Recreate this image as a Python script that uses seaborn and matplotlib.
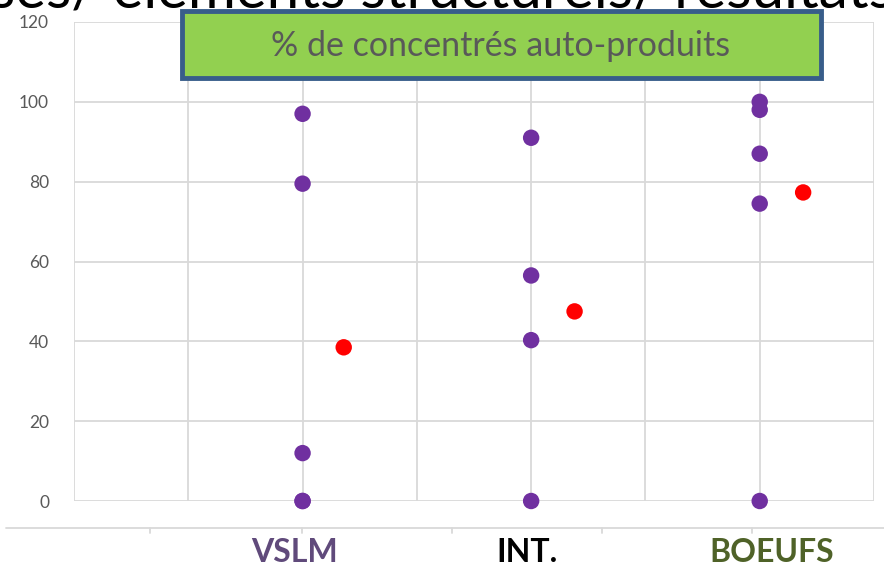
import matplotlib
matplotlib.use("Agg")
import matplotlib.pyplot as plt
import seaborn as sns
import pandas as pd
from matplotlib.patches import Rectangle
from matplotlib.lines import Line2D

# valeurs
groupes = ["VSLM", "INT.", "BOEUFS"]
groupe_x = [1, 2, 3]
vslm = [97, 79.5, 12, 0, 0]
inter = [91, 56.5, 40.3, 0]
boeufs = [100, 98, 87, 74.5, 0]
moy_x = [1.18, 2.19, 3.19]
moy_y = [38.5, 47.5, 77.3]
couleurs_groupes = ["#604a7b", "#000000", "#4f6228"]
yticks = [0, 20, 40, 60, 80, 100, 120]

rows = []
for gx, vals in zip(groupe_x, [vslm, inter, boeufs]):
    for v in vals:
        rows.append({"x": gx, "y": v})
df = pd.DataFrame(rows)
df_moy = pd.DataFrame({"x": moy_x, "y": moy_y})

sns.set_style("white")
plt.rcParams["font.family"] = ["Lato", "DejaVu Sans"]

fig = plt.figure(figsize=(8.84, 5.66), dpi=100)
ax = fig.add_axes([74 / 884, 1 - 501 / 566, 800 / 884, 479 / 566])

sns.scatterplot(data=df, x="x", y="y", ax=ax, color="#7030a0", s=140,
                edgecolor="none", clip_on=False, zorder=3)
sns.scatterplot(data=df_moy, x="x", y="y", ax=ax, color="#ff0000", s=140,
                edgecolor="none", clip_on=False, zorder=3)

ax.set_xlim(0, 3.5)
ax.set_ylim(0, 120)
ax.set_xticks([0, 0.5, 1, 1.5, 2, 2.5, 3, 3.5])
ax.set_yticks(yticks)
ax.set_xticklabels([])
ax.grid(True, color="#d9d9d9", linewidth=1.3, zorder=0)
ax.set_axisbelow(True)
ax.tick_params(axis="both", length=0)
ax.tick_params(axis="y", labelsize=12.5, labelcolor="#595959", pad=18)
ax.set_xlabel("")
ax.set_ylabel("")
for sp in ax.spines.values():
    sp.set_visible(False)

# axe des categories en bas
fig.add_artist(Line2D([6 / 884, 1], [1 - 528 / 566] * 2, transform=fig.transFigure,
                      color="#d9d9d9", linewidth=1.3))
for tx in [150, 302, 452, 602, 752]:
    fig.add_artist(Line2D([tx / 884] * 2, [1 - 528 / 566, 1 - 533 / 566],
                          transform=fig.transFigure, color="#d9d9d9", linewidth=1.3))
for gx, nom, c in zip([295, 527, 772], groupes, couleurs_groupes):
    fig.text(gx / 884, 1 - 552 / 566, nom, ha="center", va="center",
             fontsize=23, fontweight="bold", color=c)

# titre de la diapo, coupe en haut
fig.text(0.5, 1 - 7 / 566, "ses/ éléments structurels/ résultats", ha="center",
         va="baseline", fontsize=42, color="black")

# encadre vert
fig.add_artist(Rectangle((182 / 884, 1 - 78 / 566), 639 / 884, 67 / 566,
                         transform=fig.transFigure, facecolor="#92d050",
                         edgecolor="#385d8a", linewidth=3.5, zorder=5))
fig.text(501 / 884, 1 - 46 / 566, "% de concentrés auto-produits", ha="center",
         va="center", fontsize=24.5, color="#595959", zorder=6)

fig.savefig("out.png", dpi=100)
